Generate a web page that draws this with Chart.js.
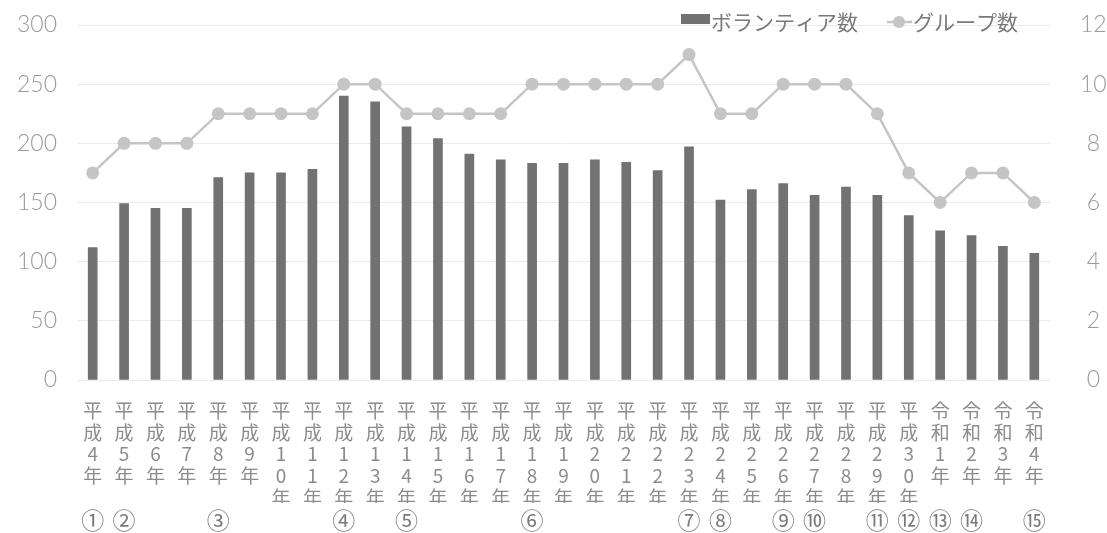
<!DOCTYPE html>
<html lang="ja">
<head>
<meta charset="utf-8">
<title>ボランティア数・グループ数の推移</title>
<script src="https://cdn.jsdelivr.net/npm/chart.js@4"></script>
<style>
    html, body { margin: 0; padding: 0; background: #fff; }
    #wrap { position: relative; width: 1107px; height: 533px; }
</style>
</head>
<body>
<div id="wrap"><canvas id="chart"></canvas></div>
<script>
/* 年度 */
const years = [
    '平成4年', '平成5年', '平成6年', '平成7年', '平成8年', '平成9年', '平成10年', '平成11年',
    '平成12年', '平成13年', '平成14年', '平成15年', '平成16年', '平成17年', '平成18年', '平成19年',
    '平成20年', '平成21年', '平成22年', '平成23年', '平成24年', '平成25年', '平成26年', '平成27年',
    '平成28年', '平成29年', '平成30年', '令和1年', '令和2年', '令和3年', '令和4年'
];
/* 年度の下の丸数字 */
const marks = [
    '①', '②', '', '', '③', '', '', '',
    '④', '', '⑤', '', '', '', '⑥', '',
    '', '', '', '⑦', '⑧', '', '⑨', '⑩',
    '', '⑪', '⑫', '⑬', '⑭', '', '⑮'
];
/* ボランティア数（左軸） */
const volunteers = [
    112, 149, 145, 145, 171, 175, 175, 178,
    240, 235, 214, 204, 191, 186, 183, 183,
    186, 184, 177, 197, 152, 161, 166, 156,
    163, 156, 139, 126, 122, 113, 107
];
/* グループ数（右軸） */
const groups = [
    7, 8, 8, 8, 9, 9, 9, 9,
    10, 10, 9, 9, 9, 9, 10, 10,
    10, 10, 10, 11, 9, 9, 10, 10,
    10, 9, 7, 6, 7, 7, 6
];
const leftTicks = { min: 0, max: 300, step: 50 };
const rightTicks = { min: 0, max: 12, step: 2 };

const BAR_COLOR = '#727272';
const LINE_COLOR = '#c4c6c6';
const TEXT_COLOR = '#8c8c8c';
const CJK = '"Noto Sans CJK JP", "Noto Sans", sans-serif';
const NUM = 'Lato, "Open Sans", "Noto Sans", sans-serif';

// 縦書き風のラベル: 1文字ずつ改行
function verticalLabel(year) {
    const chars = Array.from(year);
    while (chars.length < 5) chars.push('');
    return chars;
}
const labels = years.map(verticalLabel);

// y軸の幅を固定し、ラベル分の上下余白は無視する
function fixYAxis(width) {
    return s => {
        s.width = width;
        s.paddingTop = 0;
        s.paddingBottom = 0;
    };
}

// 凡例（グラフ領域に重ねて描く）
const legendPlugin = {
    id: 'topLegend',
    afterDraw(chart) {
        const ctx = chart.ctx;
        ctx.save();
        ctx.font = '21px ' + CJK;
        ctx.textBaseline = 'middle';
        ctx.textAlign = 'left';
        // bar
        ctx.fillStyle = BAR_COLOR;
        ctx.fillRect(681, 14, 29, 10);
        ctx.fillStyle = '#7a7a7a';
        ctx.fillText('ボランティア数', 711, 22);
        // line
        ctx.strokeStyle = LINE_COLOR;
        ctx.lineWidth = 2.5;
        ctx.beginPath();
        ctx.moveTo(887, 22);
        ctx.lineTo(912, 22);
        ctx.stroke();
        ctx.fillStyle = LINE_COLOR;
        ctx.beginPath();
        ctx.arc(899, 22, 6, 0, Math.PI * 2);
        ctx.fill();
        ctx.fillStyle = '#7a7a7a';
        ctx.fillText('グループ数', 913, 22);
        ctx.restore();
    }
};

new Chart(document.getElementById('chart'), {
    type: 'bar',
    data: {
        labels: labels,
        datasets: [
            {
                type: 'line',
                label: 'グループ数',
                data: groups,
                yAxisID: 'y1',
                borderColor: LINE_COLOR,
                backgroundColor: LINE_COLOR,
                borderWidth: 2.5,
                pointRadius: 6.5,
                pointBackgroundColor: LINE_COLOR,
                pointBorderWidth: 0,
                tension: 0,
                order: 0
            },
            {
                type: 'bar',
                label: 'ボランティア数',
                data: volunteers,
                yAxisID: 'y',
                backgroundColor: BAR_COLOR,
                barThickness: 9,
                order: 1
            }
        ]
    },
    options: {
        responsive: true,
        maintainAspectRatio: false,
        animation: false,
        layout: { padding: { top: 25, bottom: 0, left: 0, right: 0 } },
        plugins: {
            legend: { display: false },
            tooltip: { enabled: false }
        },
        scales: {
            x: {
                weight: 0,
                grid: { display: false, drawTicks: false },
                border: { display: false },
                ticks: {
                    autoSkip: false,
                    maxRotation: 0,
                    minRotation: 0,
                    padding: 20,
                    color: TEXT_COLOR,
                    font: { family: CJK, size: 19, lineHeight: 1.14 }
                },
                afterFit: s => { s.height = 123; }
            },
            x2: {
                type: 'category',
                position: 'bottom',
                weight: 1,
                labels: marks,
                offset: true,
                grid: { display: false, drawTicks: false },
                border: { display: false },
                ticks: {
                    autoSkip: false,
                    maxRotation: 0,
                    minRotation: 0,
                    padding: 3,
                    color: '#7a7a7a',
                    font: { family: CJK, size: 23, lineHeight: 1.2 }
                },
                afterFit: s => { s.height = 30; }
            },
            y: {
                position: 'left',
                min: leftTicks.min,
                max: leftTicks.max,
                grid: { color: '#ebebeb', lineWidth: 1, drawTicks: false },
                border: { display: false },
                ticks: {
                    stepSize: leftTicks.step,
                    padding: 20,
                    color: '#9a9a9a',
                    font: { family: NUM, size: 23, weight: 300 }
                },
                afterFit: fixYAxis(77)
            },
            y1: {
                position: 'right',
                min: rightTicks.min,
                max: rightTicks.max,
                grid: { display: false, drawTicks: false },
                border: { display: false },
                ticks: {
                    stepSize: rightTicks.step,
                    padding: 30,
                    crossAlign: 'center',
                    color: '#9a9a9a',
                    font: { family: NUM, size: 23, weight: 300 }
                },
                afterFit: fixYAxis(57)
            }
        }
    },
    plugins: [legendPlugin]
});
</script>
</body>
</html>
